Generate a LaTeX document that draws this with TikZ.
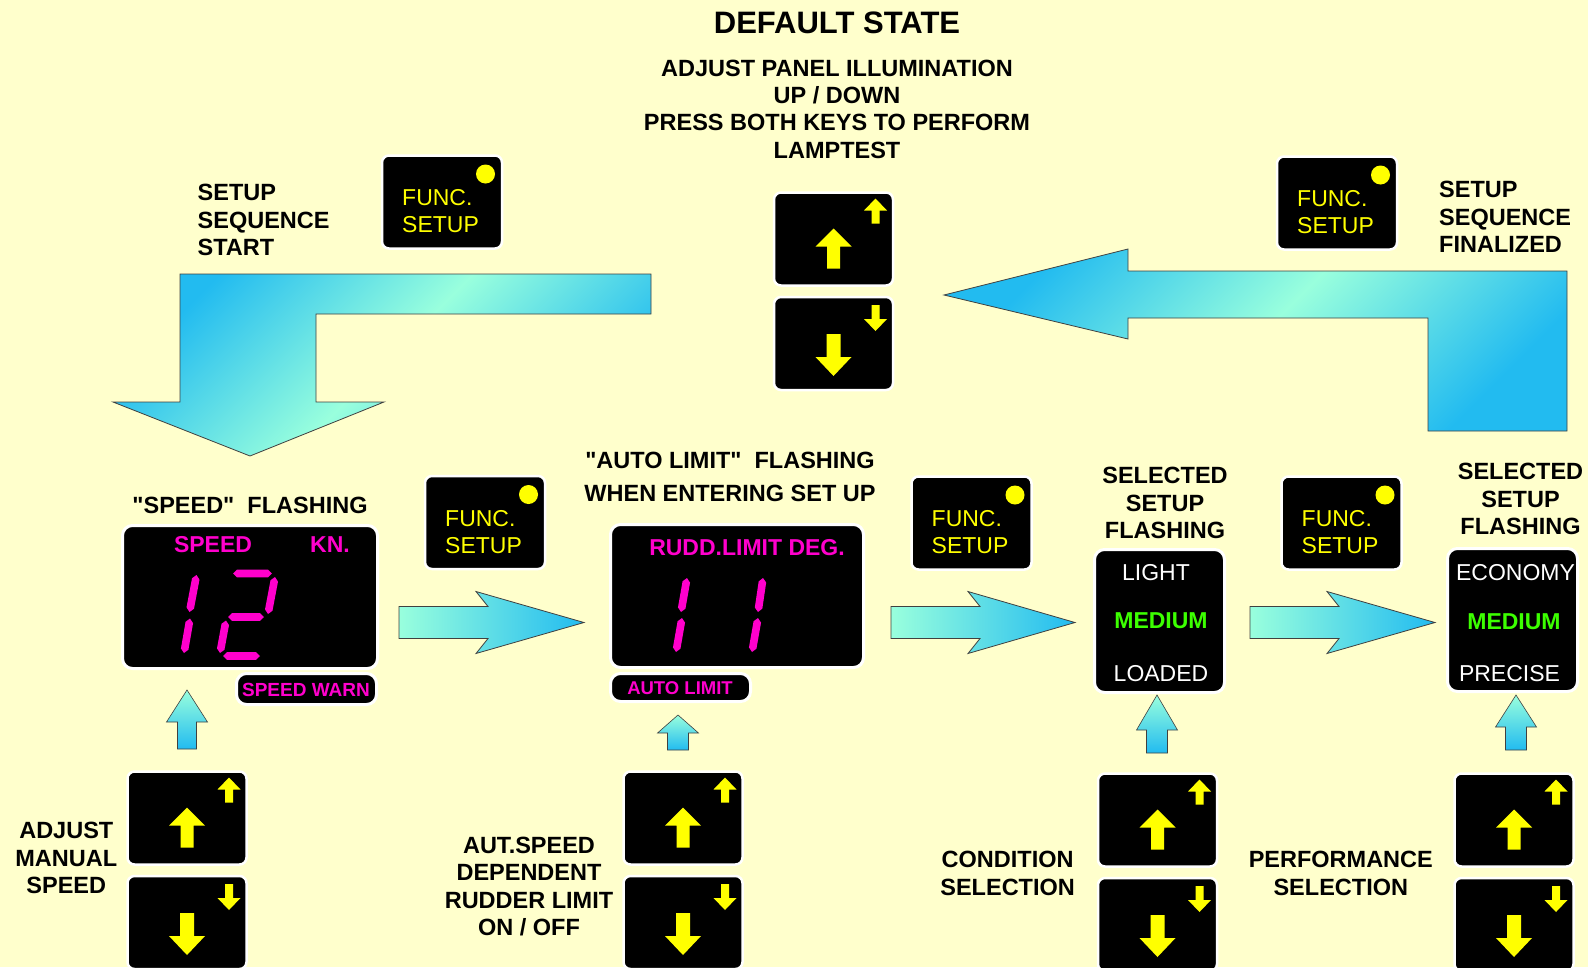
\documentclass[tikz,border=0pt]{standalone}
\usepackage{fontspec}
\setmainfont{Liberation Sans}[Ligatures=TeXOff]
\usetikzlibrary{calc}
\definecolor{bg}{HTML}{FFFFCC}
\definecolor{segc}{HTML}{FF00CC}
\definecolor{grn}{HTML}{3CFF00}
\definecolor{ylw}{HTML}{FFFF00}
\definecolor{cyb}{HTML}{22BBF0}
\definecolor{mint}{HTML}{99FFDD}
\newcommand\lblfont{\fontsize{23.5}{27.3}\selectfont\bfseries}
\newcommand\segm[2]{\fill[segc] #1 -- ($ ($#1!4pt!#2$) !3.8pt!90:#2 $) -- ($ ($#2!4pt!#1$) !3.8pt!-90:#1 $) -- #2 -- ($ ($#2!4pt!#1$) !3.8pt!90:#1 $) -- ($ ($#1!4pt!#2$) !3.8pt!-90:#2 $) -- cycle;}
\tikzset{
  panel/.style={rectangle, rounded corners=7pt, fill=black, draw=white, line width=2.5pt, inner sep=0pt},
  funcbtn/.style={panel, minimum width=120pt, minimum height=93pt},
  keybtn/.style={panel, minimum width=119pt, minimum height=93pt},
  disp/.style={panel, rounded corners=10pt, line width=3pt},
  lbl/.style={font=\lblfont, align=center, inner sep=0pt, text=black},
  functxt/.style={font=\fontsize{23}{27}\selectfont, align=left, inner sep=0pt, text=ylw, anchor=west},
  dotled/.style={circle, fill=ylw, minimum size=19pt, inner sep=0pt},
  dtxt/.style={font=\fontsize{23}{27}\selectfont\bfseries, text=segc, inner sep=0pt},
  seltxt/.style={font=\fontsize{23}{27}\selectfont, text=white, inner sep=0pt},
  bigarrow/.style={draw=black!75, line width=0.8pt, top color=cyb, bottom color=cyb, middle color=mint, shading angle=45},
  harrow/.style={draw=black!75, line width=0.8pt, left color=mint, right color=cyb},
  carrow/.style={draw=black!75, line width=0.6pt, top color=mint, bottom color=cyb},
  keyarrow/.style={fill=ylw}
}
\newcommand\upkey[3]{%
  \node[keybtn] (#1) at (#2,#3) {};
  \begin{scope}[shift={(#1.center)}]
    \fill[keyarrow] (0,-10.5) -- (18,7.5) -- (6.5,7.5) -- (6.5,29.5) -- (-6.5,29.5) -- (-6.5,7.5) -- (-18,7.5) -- cycle;
    \fill[keyarrow] (42,-40.5) -- (53.5,-28.5) -- (46,-28.5) -- (46,-15.5) -- (38,-15.5) -- (38,-28.5) -- (30.5,-28.5) -- cycle;
  \end{scope}}
\newcommand\downkey[3]{%
  \node[keybtn] (#1) at (#2,#3) {};
  \begin{scope}[shift={(#1.center)}]
    \fill[keyarrow] (0,32.5) -- (18,13.5) -- (7,13.5) -- (7,-9.5) -- (-7,-9.5) -- (-7,13.5) -- (-18,13.5) -- cycle;
    \fill[keyarrow] (42,-12.5) -- (53.5,-24.5) -- (46,-24.5) -- (46,-38.5) -- (38,-38.5) -- (38,-24.5) -- (30.5,-24.5) -- cycle;
  \end{scope}}
\newcommand\funcbutton[3]{%
  \node[funcbtn] (#1) at (#2,#3) {};
  \node[functxt] (#1t) at ($(#1.center)+(-40,9.5)$) {FUNC.\\SETUP};
  \node[dotled] (#1d) at ($(#1.center)+(43.5,-28)$) {};}
\newcommand\hright[3]{% name, x0, x1
  \draw[harrow] (#2,606.5) -- ({#2+89},606.5) -- ({#2+77},591.5) -- (#3,622.5) -- ({#2+77},653.5) -- ({#2+89},638.5) -- (#2,638.5) -- cycle;
  \coordinate (#1) at (#3,622.5);}
\newcommand\cyanup[6]{% tipx tipy basey bottom headhalf shafthalf
  \draw[carrow] (#1,#2) -- ({#1+#5},#3) -- ({#1+#6},#3) -- ({#1+#6},#4) -- ({#1-#6},#4) -- ({#1-#6},#3) -- ({#1-#5},#3) -- cycle;}
\begin{document}
\begin{tikzpicture}[x=1pt,y=-1pt]
\useasboundingbox[fill=bg] (0,0) rectangle (1588,967);

% titles
\node[font=\fontsize{31}{36}\selectfont\bfseries, inner sep=0pt] (title) at (837,23) {DEFAULT STATE};
\node[lbl] (illum) at (837,109) {ADJUST PANEL ILLUMINATION\\UP / DOWN\\PRESS BOTH KEYS TO PERFORM\\LAMPTEST};
\node[lbl, align=left, anchor=west] (sstart) at (197.5,220) {SETUP\\SEQUENCE\\START};
\node[lbl, align=left, anchor=west] (sfinal) at (1439,217) {SETUP\\SEQUENCE\\FINALIZED};

% big bent arrows
\draw[bigarrow] (651,274) -- (180,274) -- (180,402) -- (113,402) -- (250,456) -- (384,402) -- (316,402) -- (316,314) -- (651,314) -- cycle;
\draw[bigarrow] (944,295) -- (1128,249) -- (1128,271) -- (1567,271) -- (1567,431) -- (1428,431) -- (1428,318) -- (1128,318) -- (1128,339) -- cycle;

% function buttons
\funcbutton{F1}{442}{202}
\funcbutton{F2}{1337}{203}
\funcbutton{F3}{485}{522.5}
\funcbutton{F4}{971.5}{523}
\funcbutton{F5}{1341.5}{523}

% keys
\upkey{K0u}{833.5}{239}
\downkey{K0d}{833.5}{343.5}
\upkey{K1u}{187}{818}
\downkey{K1d}{187}{922.5}
\upkey{K2u}{683}{818}
\downkey{K2d}{683}{922.5}
\upkey{K3u}{1157.5}{820}
\downkey{K3d}{1157.5}{924.5}
\upkey{K4u}{1514}{820}
\downkey{K4d}{1514}{924.5}

% labels above displays
\node[lbl] (l1) at (250,505) {"SPEED"~~FLASHING};
\node[lbl, font=\fontsize{23.5}{33}\selectfont\bfseries] (l2) at (730,476.5) {"AUTO LIMIT"~~FLASHING\\WHEN ENTERING SET UP};
\node[lbl] (l3) at (1165,503) {SELECTED\\SETUP\\FLASHING};
\node[lbl] (l4) at (1520.5,499) {SELECTED\\SETUP\\FLASHING};

% display 1
\node[disp, minimum width=140pt, minimum height=31pt] (D1tab) at (306.5,689) {};
\node[disp, minimum width=255pt, minimum height=143pt] (D1) at (250,597) {};
\node[dtxt] (D1a) at (213,545) {SPEED};
\node[dtxt] (D1b) at (330,545) {KN.};
\node[dtxt, font=\fontsize{19}{22}\selectfont\bfseries] (D1c) at (306,690) {SPEED WARN};
\segm{(196.5,575)}{(189.5,612)}
\segm{(190,618.5)}{(184,653)}
\segm{(233,573.5)}{(272,573.5)}
\segm{(275,577)}{(268,614)}
\segm{(228,617)}{(264,617)}
\segm{(226,620.5)}{(220,653)}
\segm{(223,656)}{(260,656)}

% display 2
\node[disp, minimum width=140pt, minimum height=28pt] (D2tab) at (680.5,687.5) {};
\node[disp, minimum width=253pt, minimum height=143pt] (D2) at (737,596) {};
\node[dtxt] (D2a) at (747,548) {RUDD.LIMIT DEG.};
\node[dtxt, font=\fontsize{18.5}{22}\selectfont\bfseries] (D2c) at (680,688) {AUTO LIMIT};
\segm{(687,578)}{(681,612)}
\segm{(682,618)}{(676,652)}
\segm{(763,578)}{(758,612)}
\segm{(758,618)}{(752,652)}

% display 3
\node[disp, minimum width=130pt, minimum height=143pt] (D3) at (1159.5,621) {};
\node[seltxt] (D3a) at (1156,573) {LIGHT};
\node[seltxt, text=grn, font=\fontsize{23}{27}\selectfont\bfseries] (D3b) at (1161,621) {MEDIUM};
\node[seltxt] (D3c) at (1161,674) {LOADED};

% display 4
\node[disp, minimum width=130pt, minimum height=143pt] (D4) at (1512.5,620) {};
\node[seltxt] (D4a) at (1515.5,573) {ECONOMY};
\node[seltxt, text=grn, font=\fontsize{23}{27}\selectfont\bfseries] (D4b) at (1514,621.5) {MEDIUM};
\node[seltxt] (D4c) at (1509.5,674) {PRECISE};

% horizontal arrows
\hright{h1}{399}{584}
\hright{h2}{891}{1075}
\hright{h3}{1250}{1435}

% small cyan arrows
\cyanup{187}{690}{722}{749}{20.5}{9.5}
\cyanup{678}{715}{733}{750}{20.5}{10.5}
\cyanup{1157}{695}{730}{753}{20.5}{10.5}
\cyanup{1516}{695}{727}{750}{20.5}{10.5}

% bottom labels
\node[lbl] (b1) at (66.3,858) {ADJUST\\MANUAL\\SPEED};
\node[lbl] (b2) at (529,886.6) {AUT.SPEED\\DEPENDENT\\RUDDER LIMIT\\ON / OFF};
\node[lbl] (b3) at (1007.6,873.5) {CONDITION\\SELECTION};
\node[lbl] (b4) at (1340.8,873.5) {PERFORMANCE\\SELECTION};
\end{tikzpicture}
\end{document}
